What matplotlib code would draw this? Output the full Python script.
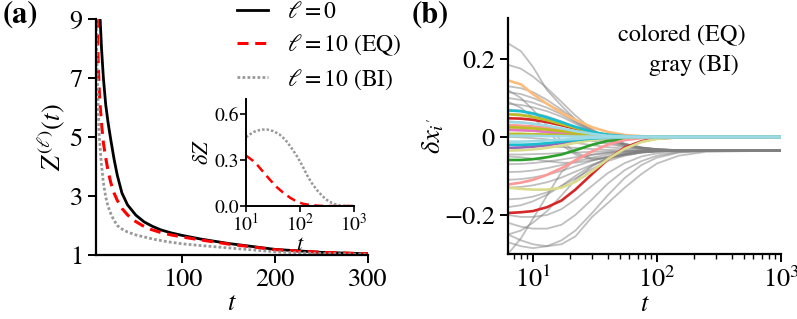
import numpy as np
import matplotlib
matplotlib.use("Agg")
import matplotlib.pyplot as plt

plt.rcParams['font.family'] = 'STIXGeneral'
plt.rcParams['mathtext.fontset'] = 'stix'
plt.rcParams['font.size'] = 19
plt.rcParams['axes.linewidth'] = 1.6
plt.rcParams['xtick.major.width'] = 1.4
plt.rcParams['ytick.major.width'] = 1.4
plt.rcParams['xtick.minor.width'] = 1.0
plt.rcParams['xtick.major.size'] = 6
plt.rcParams['ytick.major.size'] = 6
plt.rcParams['xtick.minor.size'] = 3.5

# ---- panel (a): Z^(l)(t) ----
t_l0 = [9, 10, 11.5, 13, 15, 17.5, 20, 23, 26.5, 30, 35, 41, 50, 59, 68, 77, 88, 99, 120, 150, 200, 250, 300]
z_l0 = [11.5, 10.3, 9.0, 8.0, 7.0, 6.1, 5.5, 4.9, 4.25, 3.7, 3.1, 2.7, 2.35, 2.12, 1.97, 1.85, 1.75, 1.67, 1.54, 1.39, 1.19, 1.09, 1.04]

t_eq = [7.5, 8.4, 9.5, 11, 13, 15, 17.5, 20, 23, 26.5, 30, 35, 41, 48, 57, 66, 77, 88, 100, 120, 150, 200, 250, 300]
z_eq = [11, 9.0, 7.4, 6.3, 5.45, 4.8, 4.3, 3.85, 3.45, 3.1, 2.85, 2.58, 2.36, 2.17, 2.0, 1.87, 1.76, 1.68, 1.61, 1.51, 1.37, 1.18, 1.09, 1.04]

t_bi = [7, 8.4, 10.6, 12.8, 15, 17.5, 20, 23, 26, 30, 35, 41, 50, 59, 70, 84, 100, 120, 150, 200, 250, 300]
z_bi = [9.2, 7.0, 5.0, 4.1, 3.45, 2.97, 2.65, 2.4, 2.2, 2.0, 1.88, 1.78, 1.68, 1.61, 1.53, 1.45, 1.38, 1.32, 1.24, 1.11, 1.05, 1.02]

# inset: delta Z
t_dz_eq = [10, 13, 16, 20, 28, 38, 50, 65, 87, 115, 154, 215, 300, 1000]
dz_eq = [0.33, 0.30, 0.27, 0.23, 0.17, 0.12, 0.084, 0.055, 0.029, 0.014, 0.007, 0.002, 0.0, 0.0]
t_dz_bi = [10, 12, 14, 17, 20, 25, 32, 41, 53, 68, 88, 110, 134, 165, 205, 255, 313, 390, 480, 650, 1000]
dz_bi = [0.45, 0.47, 0.485, 0.495, 0.50, 0.50, 0.49, 0.47, 0.435, 0.385, 0.325, 0.265, 0.204, 0.15,
         0.105, 0.068, 0.04, 0.02, 0.007, 0.001, 0.0]

legend_labels = [r'$\ell=0$', r'$\ell=10$ (EQ)', r'$\ell=10$ (BI)']

# ---- panel (b): delta x_i' ----
t_b = [6.3, 8, 10, 13, 17, 22, 30, 40, 55, 75, 100, 150, 250, 1000]

gray_lines = [
    [0.24, 0.22, 0.18, 0.12, 0.08, 0.045, 0.015, -0.005, -0.02, -0.028, -0.032, -0.034, -0.035, -0.035],
    [0.185, 0.175, 0.155, 0.125, 0.09, 0.055, 0.02, -0.003, -0.018, -0.027, -0.032, -0.034, -0.035, -0.035],
    [0.13, 0.125, 0.115, 0.095, 0.07, 0.045, 0.018, -0.002, -0.017, -0.027, -0.031, -0.034, -0.035, -0.035],
    [0.115, 0.11, 0.1, 0.085, 0.065, 0.04, 0.015, -0.004, -0.018, -0.027, -0.031, -0.034, -0.035, -0.035],
    [0.1, 0.095, 0.088, 0.075, 0.058, 0.038, 0.012, -0.006, -0.019, -0.028, -0.032, -0.034, -0.035, -0.035],
    [0.085, 0.082, 0.076, 0.066, 0.052, 0.034, 0.012, -0.005, -0.019, -0.028, -0.032, -0.034, -0.035, -0.035],
    [0.07, 0.068, 0.062, 0.053, 0.04, 0.024, 0.006, -0.009, -0.021, -0.029, -0.032, -0.034, -0.035, -0.035],
    [0.06, 0.058, 0.053, 0.045, 0.033, 0.02, 0.004, -0.01, -0.022, -0.029, -0.033, -0.034, -0.035, -0.035],
    [0.04, 0.038, 0.034, 0.028, 0.02, 0.01, -0.003, -0.014, -0.024, -0.03, -0.033, -0.035, -0.035, -0.035],
    [0.02, 0.019, 0.016, 0.012, 0.006, -0.001, -0.01, -0.018, -0.026, -0.031, -0.033, -0.035, -0.035, -0.035],
    [0.0, -0.001, -0.003, -0.006, -0.01, -0.015, -0.021, -0.026, -0.03, -0.033, -0.034, -0.035, -0.035, -0.035],
    [-0.02, -0.021, -0.022, -0.024, -0.026, -0.028, -0.031, -0.033, -0.034, -0.035, -0.035, -0.035, -0.035, -0.035],
    [-0.045, -0.045, -0.044, -0.043, -0.041, -0.04, -0.038, -0.037, -0.036, -0.035, -0.035, -0.035, -0.035, -0.035],
    [-0.07, -0.069, -0.067, -0.063, -0.058, -0.052, -0.046, -0.041, -0.038, -0.036, -0.035, -0.035, -0.035, -0.035],
    [-0.09, -0.089, -0.086, -0.08, -0.072, -0.063, -0.053, -0.045, -0.04, -0.037, -0.036, -0.035, -0.035, -0.035],
    [-0.11, -0.108, -0.104, -0.097, -0.087, -0.075, -0.061, -0.05, -0.042, -0.038, -0.036, -0.035, -0.035, -0.035],
    [-0.13, -0.128, -0.124, -0.116, -0.104, -0.089, -0.071, -0.056, -0.045, -0.039, -0.037, -0.035, -0.035, -0.035],
    [-0.16, -0.158, -0.153, -0.142, -0.126, -0.106, -0.082, -0.062, -0.048, -0.04, -0.037, -0.035, -0.035, -0.035],
    [-0.3, -0.26, -0.21, -0.15, -0.09, -0.058, -0.045, -0.04, -0.037, -0.036, -0.035, -0.035, -0.035, -0.035],
    [-0.25, -0.265, -0.275, -0.28, -0.275, -0.255, -0.205, -0.17, -0.13, -0.095, -0.068, -0.048, -0.038, -0.035],
    [-0.27, -0.28, -0.285, -0.28, -0.265, -0.24, -0.195, -0.15, -0.105, -0.072, -0.053, -0.04, -0.036, -0.035],
    [-0.22, -0.23, -0.235, -0.235, -0.225, -0.2, -0.16, -0.12, -0.085, -0.062, -0.048, -0.039, -0.036, -0.035],
    [-0.2, -0.205, -0.205, -0.2, -0.185, -0.16, -0.125, -0.093, -0.067, -0.05, -0.042, -0.037, -0.035, -0.035],
    [-0.25, -0.24, -0.22, -0.19, -0.15, -0.11, -0.075, -0.055, -0.044, -0.038, -0.036, -0.035, -0.035, -0.035],
    [-0.18, -0.175, -0.165, -0.148, -0.125, -0.1, -0.073, -0.055, -0.044, -0.038, -0.036, -0.035, -0.035, -0.035],
    [0.12, 0.1, 0.07, 0.03, -0.01, -0.04, -0.055, -0.052, -0.045, -0.04, -0.037, -0.035, -0.035, -0.035],
    [0.09, 0.075, 0.05, 0.015, -0.02, -0.045, -0.058, -0.055, -0.047, -0.04, -0.037, -0.035, -0.035, -0.035],
    [-0.05, -0.052, -0.056, -0.062, -0.066, -0.066, -0.06, -0.052, -0.044, -0.039, -0.036, -0.035, -0.035, -0.035],
]

color_lines = [
    ('#d62728', [0.048, 0.047, 0.044, 0.038, 0.03, 0.021, 0.011, 0.005, 0.002, 0.0005, 0, 0, 0, 0]),
    ('#9467bd', [-0.028, -0.027, -0.025, -0.021, -0.016, -0.011, -0.005, -0.002, -0.001, 0, 0, 0, 0, 0]),
    ('#2ca02c', [-0.059, -0.059, -0.057, -0.052, -0.045, -0.034, -0.02, -0.01, -0.004, -0.001, 0, 0, 0, 0]),
    ('#e377c2', [0.018, 0.017, 0.016, 0.013, 0.01, 0.007, 0.003, 0.001, 0, 0, 0, 0, 0, 0]),
    ('#ff9896', [-0.122, -0.117, -0.11, -0.097, -0.08, -0.06, -0.037, -0.02, -0.008, -0.003, -0.001, 0, 0, 0]),
    ('#ff9896', [0.03, 0.029, 0.027, 0.023, 0.018, 0.012, 0.006, 0.002, 0.001, 0, 0, 0, 0, 0]),
    ('#bcbd22', [0.058, 0.056, 0.051, 0.043, 0.033, 0.023, 0.012, 0.005, 0.002, 0.0005, 0, 0, 0, 0]),
    ('#bcbd22', [0.025, 0.024, 0.022, 0.019, 0.015, 0.01, 0.005, 0.002, 0.001, 0, 0, 0, 0, 0]),
    ('#bcbd22', [0.008, 0.008, 0.007, 0.006, 0.005, 0.003, 0.002, 0.001, 0, 0, 0, 0, 0, 0]),
    ('#d62728', [-0.195, -0.193, -0.19, -0.18, -0.163, -0.135, -0.095, -0.058, -0.027, -0.011, -0.004, -0.001, 0, 0]),
    ('#dbdb8d', [-0.13, -0.133, -0.135, -0.135, -0.13, -0.115, -0.088, -0.057, -0.03, -0.013, -0.005, -0.001, 0, 0]),
    ('#dbdb8d', [-0.035, -0.034, -0.032, -0.028, -0.022, -0.015, -0.008, -0.003, -0.001, 0, 0, 0, 0, 0]),
    ('#ffbb78', [0.145, 0.135, 0.11, 0.085, 0.062, 0.044, 0.025, 0.013, 0.005, 0.002, 0.0005, 0, 0, 0]),
    ('#17becf', [0.068, 0.066, 0.06, 0.05, 0.038, 0.026, 0.013, 0.006, 0.002, 0.0005, 0, 0, 0, 0]),
    ('#17becf', [-0.02, -0.02, -0.019, -0.016, -0.012, -0.008, -0.004, -0.002, -0.0005, 0, 0, 0, 0, 0]),
    ('#9edae5', [0.038, 0.037, 0.034, 0.029, 0.022, 0.015, 0.008, 0.003, 0.001, 0, 0, 0, 0, 0]),
    ('#9edae5', [-0.012, -0.012, -0.011, -0.009, -0.007, -0.005, -0.002, -0.001, 0, 0, 0, 0, 0, 0]),
    ('#9edae5', [0.003, 0.003, 0.003, 0.002, 0.002, 0.001, 0.001, 0, 0, 0, 0, 0, 0, 0]),
]

fig = plt.figure(figsize=(7.97, 3.19), dpi=100)

# panel (a)
ax = fig.add_axes([0.1204, 0.2006, 0.3413, 0.7398])
ax.plot(t_l0, z_l0, color='black', lw=2.0, label=legend_labels[0])
ax.plot(t_eq, z_eq, color='red', lw=2.2, ls=(0, (3.6, 2.2)), label=legend_labels[1])
ax.plot(t_bi, z_bi, color='0.6', lw=2.0, ls=(0, (1, 0.8)), label=legend_labels[2])
ax.set_xlim(7, 300)
ax.set_ylim(1, 9)
ax.set_xticks([100, 200, 300])
ax.set_yticks([1, 3, 5, 7, 9])
ax.spines['top'].set_visible(False)
ax.spines['right'].set_visible(False)
ax.set_xlabel(r'$t$', labelpad=0)
ax.set_ylabel(r'$Z^{(\ell)}(t)$', labelpad=2)
ax.legend(loc='upper left', bbox_to_anchor=(0.52, 1.075), frameon=False, fontsize=17,
          handlelength=1.3, handletextpad=0.8, labelspacing=0.4, borderaxespad=0, borderpad=0)

# inset
axi = fig.add_axes([0.3087, 0.3542, 0.1355, 0.3354])
axi.plot(t_dz_eq, dz_eq, color='red', lw=1.8, ls=(0, (3.6, 2.2)))
axi.plot(t_dz_bi, dz_bi, color='0.6', lw=1.8, ls=(0, (1, 0.8)))
axi.set_xscale('log')
axi.set_xlim(10, 1000)
axi.set_ylim(0, 0.7)
axi.set_yticks([0.0, 0.3, 0.6])
axi.set_yticklabels(['0.0', '0.3', '0.6'])
axi.set_xticks([10, 100, 1000])
axi.minorticks_off()
axi.tick_params(labelsize=14, length=4, width=1.2, pad=1)
for s in ['left', 'bottom']:
    axi.spines[s].set_linewidth(1.4)
axi.spines['top'].set_visible(False)
axi.spines['right'].set_visible(False)
axi.patch.set_alpha(0)
axi.set_xlabel(r'$t$', fontsize=16, labelpad=0)
axi.set_ylabel(r'$\delta Z$', fontsize=16, labelpad=1)

# panel (b)
bx = fig.add_axes([0.6374, 0.2038, 0.3425, 0.7398])
for vals in gray_lines:
    bx.plot(t_b, vals, color='0.5', alpha=0.5, lw=1.3)
for col, vals in color_lines:
    bx.plot(t_b, vals, color=col, lw=1.9)
bx.set_xscale('log')
bx.set_xlim(6.3, 1000)
bx.set_ylim(-0.3, 0.305)
bx.set_xticks([10, 100, 1000])
bx.set_yticks([-0.2, 0, 0.2])
bx.set_yticklabels(['\u22120.2', '0', '0.2'])
bx.spines['top'].set_visible(False)
bx.spines['right'].set_visible(False)
bx.set_xlabel(r'$t$', labelpad=0)
bx.set_ylabel(r"$\delta x_{i'}$", labelpad=-2)
bx.text(0.636, 0.925, 'colored (EQ)', transform=bx.transAxes, ha='center', va='center', fontsize=17.5)
bx.text(0.68, 0.80, 'gray (BI)', transform=bx.transAxes, ha='center', va='center', fontsize=17.5)

fig.text(0.003, 0.995, '(a)', fontsize=22, fontweight='bold', va='top', ha='left')
fig.text(0.516, 0.995, '(b)', fontsize=22, fontweight='bold', va='top', ha='left')

fig.savefig('out.png', dpi=100)
